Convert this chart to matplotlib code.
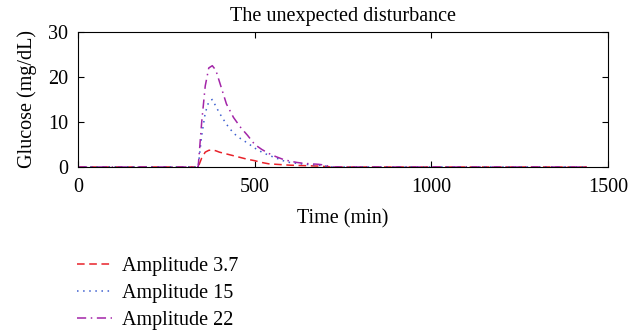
import matplotlib
matplotlib.use("Agg")
import matplotlib.pyplot as plt
import numpy as np

plt.rcParams['font.family'] = ['Liberation Serif', 'DejaVu Serif']

# tiempo (min) y respuestas de glucosa para cada amplitud
t = [0, 340, 350, 360, 370, 380, 390, 400, 420, 440, 460, 480, 500, 520, 540,
     560, 580, 600, 620, 640, 660, 680, 700, 715, 1440]
g_37 = [0, 0, 2.0, 3.3, 3.7, 3.8, 3.6, 3.3, 2.9, 2.5, 2.1, 1.7, 1.4, 1.0, 0.7,
        0.6, 0.5, 0.4, 0.35, 0.3, 0.25, 0.2, 0.1, 0, 0]
g_15 = [0, 0, 7.0, 12.0, 14.5, 15.0, 13.5, 12.0, 9.5, 7.5, 6.3, 5.3, 4.2, 3.3, 2.6,
        2.0, 1.4, 1.0, 0.8, 0.6, 0.5, 0.4, 0.2, 0, 0]
g_22 = [0, 0, 10.0, 18.0, 22.0, 22.5, 21.5, 19.0, 14.0, 11.0, 8.8, 7.0, 5.0, 3.9, 3.0,
        2.3, 1.7, 1.3, 1.0, 0.8, 0.7, 0.6, 0.4, 0, 0]

etiquetas = ["Amplitude 3.7", "Amplitude 15", "Amplitude 22"]

fig = plt.figure(figsize=(6.41, 3.31), dpi=100)
ax = fig.add_axes([0.1217, 0.4955, 0.827, 0.408])

l1, = ax.plot(t, g_37, color="#e8222a", ls=(0, (5, 3)), lw=1.1)
l2, = ax.plot(t, g_15, color="#3d5fd0", ls=(0, (1, 3)), lw=1.1)
l3, = ax.plot(t, g_22, color="#a325a8", ls=(0, (6, 3, 1, 3)), lw=1.1)

ax.set_xlim(0, 1500)
ax.set_ylim(0, 30)
ax.set_xticks([0, 500, 1000, 1500])
ax.set_yticks([0, 10, 20, 30])
ax.tick_params(direction="in", top=True, right=True, labelsize=14.5, length=4)
ax.tick_params(axis="x", pad=8)
ax.tick_params(axis="y", pad=7)
ax.set_title("The unexpected disturbance", fontsize=14.5, pad=8)
ax.set_xlabel("Time (min)", fontsize=14.5, labelpad=9)
ax.set_ylabel("Glucose (mg/dL)", fontsize=14.5, labelpad=8)

fig.legend([l1, l2, l3], etiquetas, loc="upper left", bbox_to_anchor=(0.104, 0.255),
           frameon=False, fontsize=14.5, handlelength=1.75, handletextpad=0.5,
           labelspacing=0.4, borderpad=0)

fig.savefig("out.png", dpi=100)
